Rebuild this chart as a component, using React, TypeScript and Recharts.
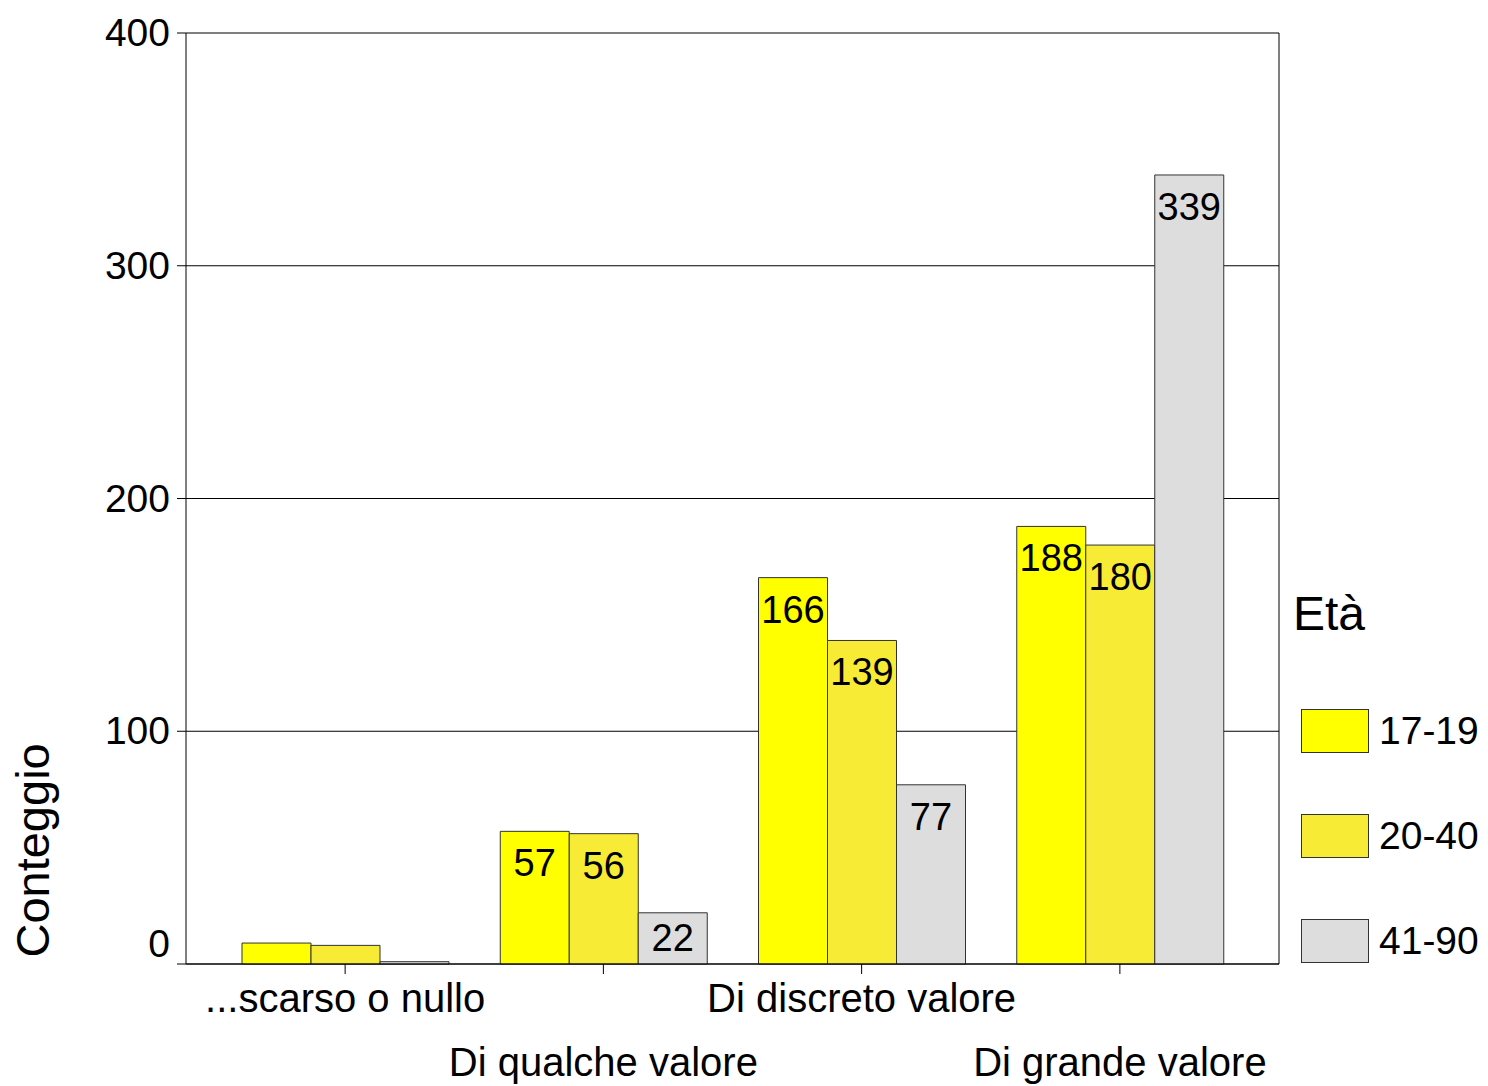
import { BarChart, Bar, XAxis, YAxis, CartesianGrid, LabelList } from "recharts";

const categories = ["...scarso o nullo", "Di qualche valore", "Di discreto valore", "Di grande valore"];
const eta1719 = [9, 57, 166, 188];
const eta2040 = [8, 56, 139, 180];
const eta4190 = [1, 22, 77, 339];
const yTicks = [0, 100, 200, 300, 400];

const seriesNames = ["17-19", "20-40", "41-90"];
const seriesColors = ["#FFFF00", "#F7EB35", "#DDDDDD"];
const seriesKeys = ["a", "b", "c"];

const data = categories.map((name, i) => ({
  name,
  a: eta1719[i],
  b: eta2040[i],
  c: eta4190[i],
}));

const FONT = "'Liberation Sans', Arial, sans-serif";

const XTick = (props: any) => {
  const { x, y, payload, index } = props;
  const dy = index % 2 === 0 ? 36 : 100;
  return (
    <text x={x} y={y} dy={dy} textAnchor="middle" fontSize={40} fontFamily={FONT} fill="#000">
      {payload.value}
    </text>
  );
};

const YTick = (props: any) => {
  const { x, y, payload } = props;
  const shift = payload.value === 0 ? -20 : 0;
  return (
    <text x={x} y={y + shift} dy={13} textAnchor="end" fontSize={39} fontFamily={FONT} fill="#000">
      {payload.value}
    </text>
  );
};

const ValueLabel = (props: any) => {
  const { x, y, width, height, value } = props;
  if (value < 15) return null;
  const cy = height < 64 ? y + height / 2 : y + 32;
  return (
    <text x={x + width / 2} y={cy} dy={13} textAnchor="middle" fontSize={38} fontFamily={FONT} fill="#000">
      {value}
    </text>
  );
};

const YLabel = (props: any) => {
  const { viewBox } = props;
  const cx = 33;
  const cy = viewBox.y + viewBox.height * 0.878;
  return (
    <text
      x={cx}
      y={cy}
      transform={`rotate(-90, ${cx}, ${cy})`}
      textAnchor="middle"
      dominantBaseline="central"
      fontSize={47}
      fontFamily={FONT}
      fill="#000"
    >
      Conteggio
    </text>
  );
};

const LegendBox = () => (
  <div style={{ position: "absolute", left: 1293, top: 590, width: 195, fontFamily: FONT, color: "#000" }}>
    <div style={{ fontSize: 48, lineHeight: "48px", marginBottom: 40 }}>Età</div>
    {seriesNames.map((n, i) => (
      <div key={n} style={{ display: "flex", alignItems: "center", height: 105, marginLeft: 8 }}>
        <div
          style={{
            width: 66,
            height: 42,
            background: seriesColors[i],
            border: "1px solid #333",
            marginRight: 10,
          }}
        />
        <span style={{ fontSize: 39 }}>{n}</span>
      </div>
    ))}
  </div>
);

export default function App() {
  return (
    <div style={{ position: "absolute", left: 0, top: 0, width: 1488, height: 1086, background: "#fff" }}>
      <BarChart
        width={1488}
        height={1086}
        data={data}
        margin={{ top: 33, right: 208, bottom: 12, left: 100 }}
        barCategoryGap={26}
        barGap={0}
      >
        <CartesianGrid vertical={false} stroke="#000" strokeWidth={1} />
        <XAxis
          dataKey="name"
          height={110}
          padding={{ left: 30, right: 30 }}
          axisLine={{ stroke: "#000" }}
          tickLine={{ stroke: "#000" }}
          tickSize={10}
          tickMargin={2}
          interval={0}
          tick={<XTick />}
        />
        <YAxis
          width={86}
          domain={[0, 400]}
          ticks={yTicks}
          axisLine={{ stroke: "#000" }}
          tickLine={{ stroke: "#000" }}
          tickSize={9}
          tickMargin={7}
          tick={<YTick />}
          label={<YLabel />}
        />
        <YAxis
          yAxisId="r"
          orientation="right"
          width={1}
          domain={[0, 400]}
          tick={false}
          tickLine={false}
          axisLine={{ stroke: "#000" }}
        />
        {seriesKeys.map((k, i) => (
          <Bar
            key={k}
            dataKey={k}
            name={seriesNames[i]}
            fill={seriesColors[i]}
            stroke="#333"
            strokeWidth={1}
            isAnimationActive={false}
          >
            <LabelList dataKey={k} content={<ValueLabel />} />
          </Bar>
        ))}
      </BarChart>
      <LegendBox />
    </div>
  );
}
